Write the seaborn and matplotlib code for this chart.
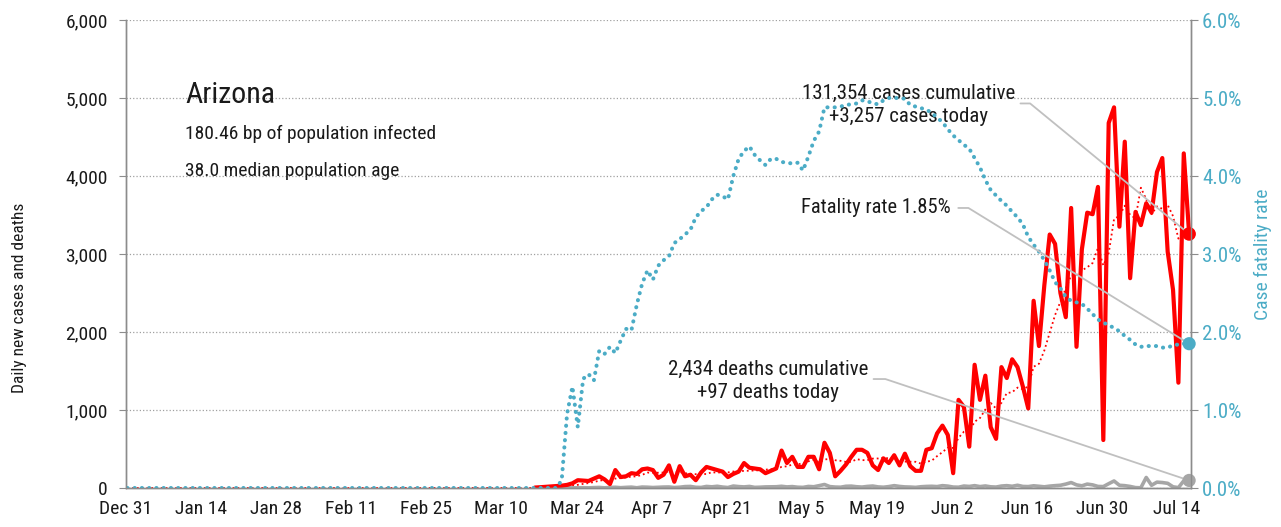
import numpy as np
import pandas as pd
import matplotlib
matplotlib.use("Agg")
import matplotlib.pyplot as plt
from matplotlib import font_manager
from matplotlib.ticker import FuncFormatter, MultipleLocator
import seaborn as sns

# ---- data ----
first_day = "2019-12-31"
zero_days = 76          # days flat at zero before the case / death values start (Mar 16)

# daily new cases, from Mar 16
cases = [6, 10, 15, 20,
         25, 30, 40, 60, 100, 95, 90, 120, 150, 110,
         50, 230, 140, 150, 190, 180, 240, 250, 230, 130,
         170, 290, 80, 280, 150, 170, 100, 200, 270, 250,
         230, 210, 140, 180, 210, 320, 260, 250, 240, 190,
         220, 250, 480, 320, 400, 270, 270, 400, 400, 240,
         580, 450, 150, 220, 300, 400, 490, 490, 450, 290,
         230, 380, 320, 420, 290, 440, 280, 220, 220, 490,
         510, 700, 800, 680, 190, 1130, 1040, 530, 1580, 1130,
         1440, 780, 630, 1550, 1410, 1650, 1550, 1300, 1020, 2400,
         1820, 2600, 3250, 3130, 2500, 2190, 3590, 1810, 3060, 3530,
         3510, 3860, 615, 4680, 4880, 3350, 4440, 2690, 3540, 3370,
         3650, 3530, 4050, 4230, 3030, 2540, 1350, 4290, 3257]

# daily new deaths, from Mar 16
deaths = [0, 0, 0, 0,
          0, 1, 1, 2, 3, 4, 2, 5, 7, 2,
          7, 9, 4, 8, 11, 3, 12, 10, 6, 9,
          12, 13, 6, 10, 18, 20, 9, 7, 20, 15,
          22, 12, 6, 25, 18, 14, 20, 8, 10, 14,
          15, 16, 22, 14, 18, 10, 8, 20, 16, 30,
          45, 18, 12, 10, 22, 24, 16, 12, 20, 25,
          14, 10, 18, 30, 20, 14, 12, 8, 16, 20,
          22, 18, 30, 24, 12, 10, 25, 20, 30, 18,
          26, 15, 12, 25, 30, 22, 35, 20, 18, 28,
          22, 15, 24, 30, 35, 50, 70, 40, 28, 50,
          40, 20, 18, 55, 90, 35, 30, 20, 5, 3,
          135, 35, 75, 70, 60, 15, 5, 92, 97]

# case fatality rate in %, from Mar 21 (zero before)
fatality_rate = [0.1, 0.95, 1.30, 0.78, 1.40, 1.46, 1.38, 1.76, 1.72, 1.81,
                 1.73, 1.89, 2.04, 2.02, 2.35, 2.62, 2.79, 2.67, 2.85, 2.92,
                 2.97, 3.14, 3.19, 3.25, 3.31, 3.47, 3.55, 3.60, 3.70, 3.76,
                 3.74, 3.70, 4.00, 4.22, 4.32, 4.38, 4.27, 4.20, 4.14, 4.22,
                 4.22, 4.18, 4.17, 4.16, 4.17, 4.07, 4.25, 4.45, 4.57, 4.88,
                 4.88, 4.88, 4.89, 4.91, 4.92, 4.93, 4.97, 4.96, 4.93, 4.92,
                 4.97, 5.00, 5.00, 5.00, 4.99, 4.91, 4.89, 4.87, 4.85, 4.81,
                 4.75, 4.69, 4.60, 4.52, 4.46, 4.40, 4.35, 4.23, 4.11, 3.95,
                 3.82, 3.75, 3.68, 3.62, 3.54, 3.47, 3.38, 3.22, 3.12, 3.03,
                 2.92, 2.79, 2.64, 2.56, 2.45, 2.40, 2.38, 2.36, 2.30, 2.23,
                 2.16, 2.12, 2.09, 2.05, 2.01, 1.95, 1.90, 1.84, 1.81, 1.82,
                 1.82, 1.82, 1.80, 1.80, 1.83, 1.84, 1.85, 1.85]

state = "Arizona"
info_lines = ["180.46 bp of population infected", "38.0 median population age"]
cases_note = "131,354 cases cumulative\n+3,257 cases today"
deaths_note = "2,434 deaths cumulative\n+97 deaths today"
rate_note = "Fatality rate 1.85%"

RED = "#ff0000"
TEAL = "#4bacc6"
GRAY = "#a6a6a6"
LEADER = "#c0c0c0"

# ---- frame ----
n_days = zero_days + len(cases)
start = pd.Timestamp(first_day)
df = pd.DataFrame({"date": pd.date_range(start + pd.Timedelta(hours=6), periods=n_days, freq="D")})
df["cases"] = np.r_[np.zeros(zero_days), cases]
df["deaths"] = np.r_[np.zeros(zero_days), deaths]
df["rate"] = np.r_[np.zeros(n_days - len(fatality_rate)), fatality_rate]
df["cases_avg"] = df["cases"].rolling(7, min_periods=1).mean()
recent = df.iloc[zero_days:]
last = df.iloc[-1]


def day(n):
    return start + pd.Timedelta(days=n)


sns.set_style("white")
names = {f.name for f in font_manager.fontManager.ttflist}
font = next((n for n in ["Roboto Condensed", "Liberation Sans Narrow", "DejaVu Sans"] if n in names), "DejaVu Sans")
plt.rcParams["font.family"] = [font, "DejaVu Sans"]
plt.rcParams["text.color"] = "#1a1a1a"

fig = plt.figure(figsize=(12.81, 5.27), dpi=100)
ax = fig.add_axes([126 / 1281, 39 / 527, 1065 / 1281, 468 / 527])
ax2 = ax.twinx()

# lines
sns.lineplot(data=df, x="date", y="cases_avg", ax=ax, color=RED, lw=1.3, linestyle=":")
sns.lineplot(data=recent, x="date", y="deaths", ax=ax, color=GRAY, lw=2.6)
sns.lineplot(data=recent, x="date", y="cases", ax=ax, color=RED, lw=3.0)
sns.lineplot(data=df, x="date", y="rate", ax=ax2, color=TEAL, lw=2.9)
ax2.lines[-1].set_dashes((0.05, 1.75))
ax2.lines[-1].set_dash_capstyle("round")

# end markers
sns.scatterplot(x=[last["date"]], y=[last["cases"]], ax=ax, color=RED, s=95,
                edgecolor="none", zorder=6, clip_on=False)
sns.scatterplot(x=[last["date"]], y=[last["deaths"]], ax=ax, color=GRAY, s=90,
                edgecolor="none", zorder=6, clip_on=False)
sns.scatterplot(x=[last["date"]], y=[last["rate"]], ax=ax2, color=TEAL, s=90,
                edgecolor="none", zorder=6, clip_on=False)

# axes
ax.set_xlim(start, day(198.6))
ax.set_ylim(0, 6000)
ax2.set_ylim(0, 6)
ax.yaxis.set_major_locator(MultipleLocator(1000))
ax2.yaxis.set_major_locator(MultipleLocator(1))
ax.yaxis.set_major_formatter(FuncFormatter(lambda v, _: f"{v:,.0f}"))
ax2.yaxis.set_major_formatter(FuncFormatter(lambda v, _: f"{v:.1f}%"))
ticks = pd.date_range(start, periods=15, freq="14D")
ax.set_xticks(ticks)
ax.set_xticklabels([f"{d:%b} {d.day}" for d in ticks])
ax.grid(axis="y", ls=":", color="#a0a0a0", lw=0.9)
ax.grid(axis="x", visible=False)
ax2.grid(False)

for a in (ax, ax2):
    a.spines["top"].set_visible(False)
    for s in ("left", "right", "bottom"):
        a.spines[s].set_color("#8c8c8c")
        a.spines[s].set_linewidth(1.0)
    a.set_xlabel("")

ax.tick_params(axis="x", length=6, color="#8c8c8c", labelsize=14, pad=3, labelcolor="#1a1a1a")
ax.tick_params(axis="y", length=5, color="#8c8c8c", labelsize=14, pad=8, labelcolor="#1a1a1a")
ax2.tick_params(axis="y", length=5, color="#8c8c8c", labelsize=15, pad=3, labelcolor=TEAL)

ax.set_ylabel("Daily new cases and deaths", fontsize=12.5, color="#1a1a1a")
ax.yaxis.set_label_coords(-0.093, 0.406)
ax2.set_ylabel("Case fatality rate", fontsize=14, color=TEAL)
ax2.yaxis.set_label_coords(1.059, 0.5)

# titles
ax.text(day(11), 5040, state, fontsize=21.5, va="center", ha="left")
ax.text(day(11), 4540, info_lines[0], fontsize=14, va="center", ha="left")
ax.text(day(11), 4060, info_lines[1], fontsize=14, va="center", ha="left")

# notes with leader lines
ax.text(day(145.9), 4910, cases_note, fontsize=15, ha="center", va="center", linespacing=1.25)
ax.plot([day(166.8), day(168.6), last["date"]], [4930, 4930, last["cases"]], color=LEADER, lw=1.3, zorder=4)

ax2.text(day(153.7), 3.59, rate_note, fontsize=14.8, ha="right", va="center")
ax2.plot([day(155.2), day(157.1), last["date"]], [3.59, 3.59, last["rate"]], color=LEADER, lw=1.3, zorder=4)

ax.text(day(119.8), 1372, deaths_note, fontsize=15, ha="center", va="center", linespacing=1.25)
ax.plot([day(139.4), day(141.6), last["date"]], [1397, 1397, last["deaths"]], color=LEADER, lw=1.3, zorder=4)

fig.savefig("out.png", dpi=100)
